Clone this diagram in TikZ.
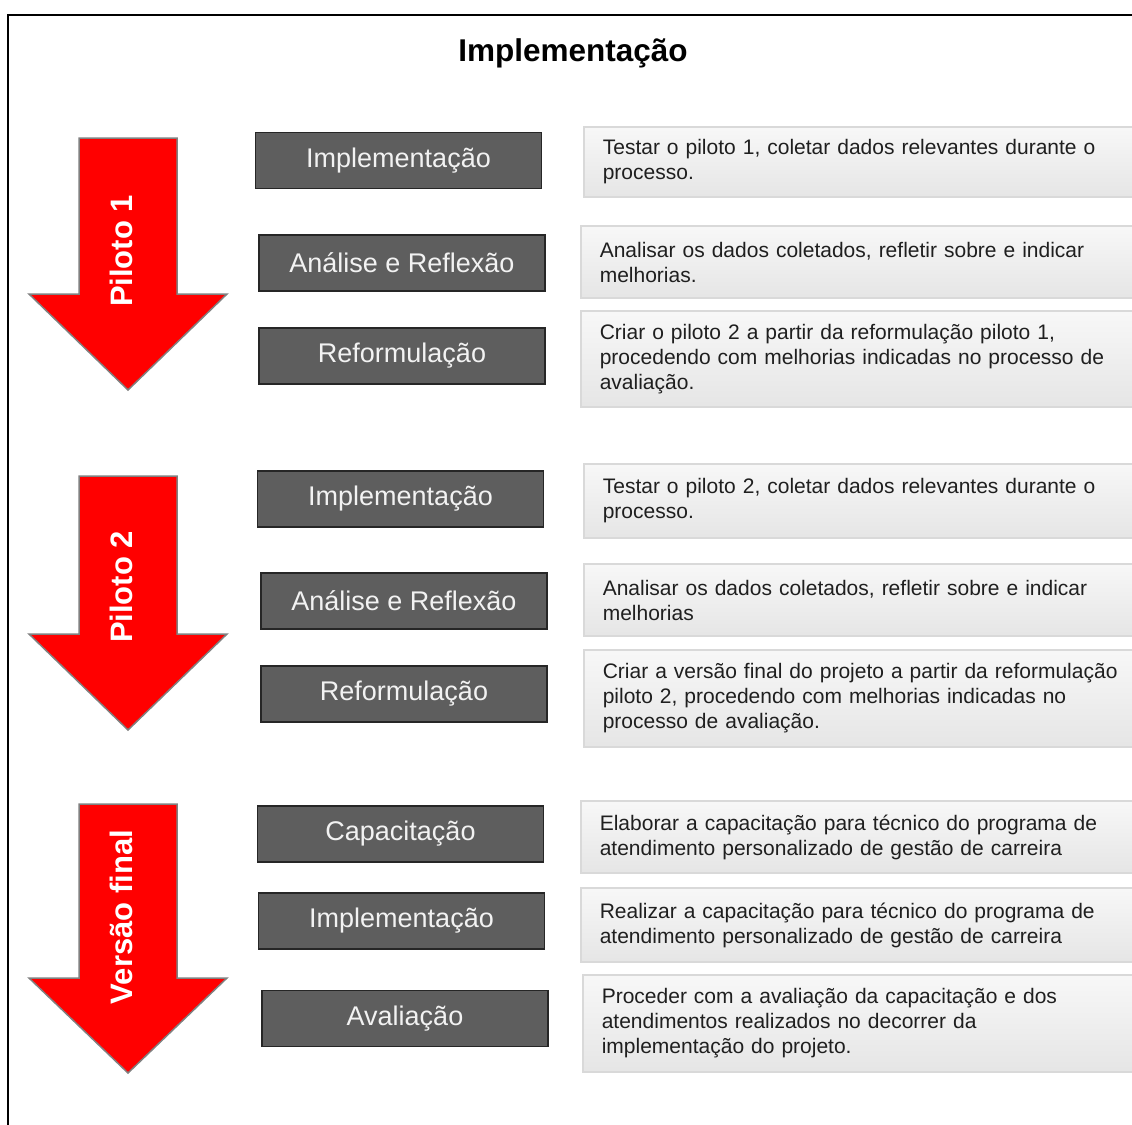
\documentclass[tikz,border=0pt]{standalone}
\usepackage{fontspec}
\setmainfont{Liberation Sans}

\tikzset{
  etapa/.style={draw=black!85, line width=1.6pt, fill=black!63, text=black!5,
    font=\fontsize{27}{30}\selectfont, minimum width=286pt, minimum height=56pt, inner sep=0pt},
  descricao/.style={draw=black!15, line width=1.6pt, top color=black!3, bottom color=black!10,
    anchor=west, text width=560pt, inner xsep=19pt, inner ysep=0pt, align=left,
    font=\fontsize{21}{25}\selectfont, text=black!88},
  seta/.style={fill=red, draw=black!50, line width=1.5pt, line join=miter},
  rotulo seta/.style={rotate=90, text=white, font=\bfseries\fontsize{31}{31}\selectfont, inner sep=0pt}
}

\begin{document}
\begin{tikzpicture}[x=1pt,y=-1pt]
  \useasboundingbox (0,0) rectangle (1132,1124);
  \clip (0,0) rectangle (1132,1124);
  \draw[line width=2pt] (1140,15) -| (8,1130);
  \node[font=\bfseries\fontsize{31.5}{31.5}\selectfont] (titulo) at (573,53) {Implementação};

  \foreach \nome/\topo/\pescoco/\ponta/\ty/\rotulo in {p1/138/294/390/251/Piloto 1, p2/476/634/730/587/Piloto 2, vf/804/978/1073/917/Versão final}{
    \draw[seta] (79,\topo) -- (177,\topo) -- (177,\pescoco) -- (227,\pescoco) -- (128,\ponta) -- (29,\pescoco) -- (79,\pescoco) -- cycle;
    \node[rotulo seta] (\nome) at (121,\ty) {\rotulo};
  }

  % piloto 1
  \node[etapa] (impl1) at (398.5,160.5) {Implementação};
  \node[etapa] (anal1) at (402,263) {Análise e Reflexão};
  \node[etapa] (refo1) at (402,356) {Reformulação};
  \node[descricao, minimum height=70pt] (d11) at (583,162) {Testar o piloto 1, coletar dados relevantes durante o\\processo.};
  \node[descricao, minimum height=72pt] (d12) at (580,262) {Analisar os dados coletados, refletir sobre e indicar\\melhorias.};
  \node[descricao, minimum height=96pt] (d13) at (580,359) {Criar o piloto 2 a partir da reformulação piloto 1,\\procedendo com melhorias indicadas no processo de\\avaliação.};

  % piloto 2
  \node[etapa] (impl2) at (400.5,499) {Implementação};
  \node[etapa] (anal2) at (404,601) {Análise e Reflexão};
  \node[etapa] (refo2) at (404,694) {Reformulação};
  \node[descricao, minimum height=74pt] (d21) at (583,501) {Testar o piloto 2, coletar dados relevantes durante o\\processo.};
  \node[descricao, minimum height=72pt] (d22) at (583,600) {Analisar os dados coletados, refletir sobre e indicar\\melhorias};
  \node[descricao, minimum height=97pt] (d23) at (583,698.5) {Criar a versão final do projeto a partir da reformulação\\piloto 2, procedendo com melhorias indicadas no\\processo de avaliação.};

  % versao final
  \node[etapa] (capa3) at (400.5,834) {Capacitação};
  \node[etapa] (impl3) at (401.5,921) {Implementação};
  \node[etapa] (aval3) at (405,1018.5) {Avaliação};
  \node[descricao, minimum height=72pt] (d31) at (580,837) {Elaborar a capacitação para técnico do programa de\\atendimento personalizado de gestão de carreira};
  \node[descricao, minimum height=74pt] (d32) at (580,925) {Realizar a capacitação para técnico do programa de\\atendimento personalizado de gestão de carreira};
  \node[descricao, minimum height=97pt] (d33) at (582,1023.5) {Proceder com a avaliação da capacitação e dos\\atendimentos realizados no decorrer da\\implementação do projeto.};
\end{tikzpicture}
\end{document}
